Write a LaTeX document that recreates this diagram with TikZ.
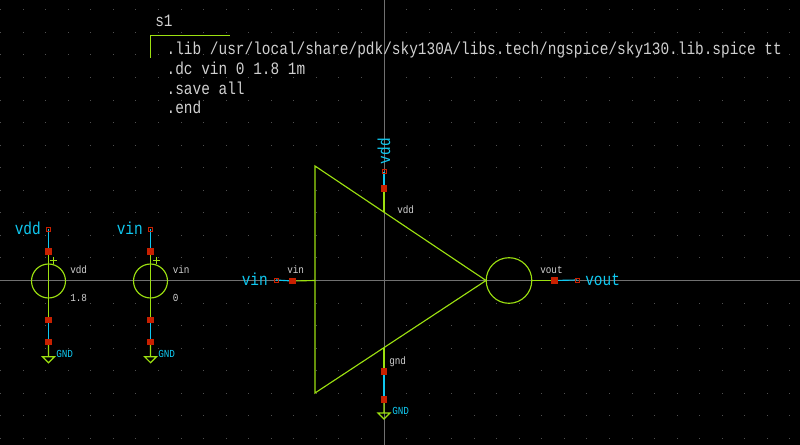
\documentclass[tikz,border=0pt]{standalone}
\usepackage{fontspec}
\setmonofont{Liberation Mono}
\definecolor{wiregreen}{HTML}{9CE010}
\definecolor{netcyan}{HTML}{10C8F0}
\definecolor{pinred}{HTML}{C82000}
\definecolor{labelgray}{HTML}{D0D0D0}
\definecolor{axisgray}{HTML}{707070}
\definecolor{dotgray}{HTML}{505050}
\pgfdeclarelayer{bottom}
\pgfdeclarelayer{wires}
\pgfsetlayers{bottom,wires,main}
\newcommand{\bigtxt}[1]{\scalebox{1}[1.2]{\fontsize{10.83pt}{12pt}\ttfamily #1}}
\newcommand{\smalltxt}[1]{\scalebox{1}[1.15]{\fontsize{7pt}{8pt}\ttfamily #1}}
\tikzset{
  x=0.75pt,y=-0.75pt,
  shape line/.style={draw=wiregreen,line width=0.85pt},
  net line/.style={draw=netcyan,line width=0.85pt},
  pinbox/.style={rectangle,fill=pinred,draw=none,minimum size=5pt,inner sep=0pt},
  smallpin/.style={rectangle,draw=pinred,fill=none,line width=0.6pt,minimum size=3pt,inner sep=0pt},
  code text/.style={anchor=base west,inner sep=0pt,text=labelgray},
  net text/.style={anchor=base west,inner sep=0pt,text=netcyan},
  axis line/.style={draw=axisgray,line width=0.75pt},
}
\newcommand{\gndsym}[3]{%
  \draw[shape line] (#1,#2) -- (#1,#3)
    (#1-6,#3) -- (#1+6,#3) -- (#1,#3+6) -- cycle;}
\begin{document}
\begin{tikzpicture}
\useasboundingbox (0,0) rectangle (800,445);
\begin{pgfonlayer}{bottom}
\fill[black] (0,0) rectangle (800,445);
\foreach \i in {-17,...,18}{
  \foreach \j in {-12,...,7}{
    \fill[dotgray] ({384+22.55*\i-0.5},{280.5+22.55*\j-0.5}) rectangle +(1,1);
  }
}
\draw[axis line] (0,280.5) -- (800,280.5);
\draw[axis line] (384,0) -- (384,445);
\end{pgfonlayer}
% code block
\draw[shape line] (150.5,58) -- (150.5,35.5) -- (230,35.5);
\node[code text] (title) at (155,26.7) {\bigtxt{s1}};
\node[code text] (l1) at (166.4,55) {\bigtxt{.lib /usr/local/share/pdk/sky130A/libs.tech/ngspice/sky130.lib.spice tt}};
\node[code text] (l2) at (166.4,74.7) {\bigtxt{.dc vin 0 1.8 1m}};
\node[code text] (l3) at (166.4,94.3) {\bigtxt{.save all}};
\node[code text] (l4) at (166.4,114) {\bigtxt{.end}};
% inverter symbol
\draw[shape line] (315,166) -- (315,393) -- (486,280.5) -- cycle;
\node[circle,draw=wiregreen,line width=0.85pt,minimum size=34.2pt,inner sep=0pt] (bubble) at (509,280.5) {};
% inverter pins
\node[pinbox] (invin) at (292.3,281) {};
\node[smallpin] (lin) at (276,280) {};
\coordinate (tin) at (315,280.5);
\node[net text] (inlabel) at (241.5,285.7) {\bigtxt{vin}};
\node[code text] (insmall) at (287,274) {\smalltxt{vin}};
\node[pinbox] (invout) at (554.5,280.5) {};
\node[smallpin] (lout) at (577,280) {};
\node[net text] (outlabel) at (585,285.7) {\bigtxt{vout}};
\node[code text] (outsmall) at (540,274) {\smalltxt{vout}};
\node[pinbox] (invvdd) at (384,188.7) {};
\node[smallpin] (lvdd) at (384,171.7) {};
\coordinate (tvdd) at (384,211.7);
\node[net text,rotate=90] (vddtop) at (390,164.5) {\bigtxt{vdd}};
\node[code text] (vddsmall) at (397,213.5) {\smalltxt{vdd}};
\node[pinbox] (invgnd) at (384,371.3) {};
\node[pinbox] (gndtop) at (384,399.3) {};
\coordinate (tgnd) at (384,348.5);
\node[code text] (gndsmall) at (389,364) {\smalltxt{gnd}};
\node[net text] (gndlabel) at (392,415) {\smalltxt{GND}};
% vdd source
\node[circle,draw=wiregreen,line width=0.85pt,minimum size=25.5pt,inner sep=0pt] (srca) at (48.5,281) {};
\node[pinbox] (atop) at (48.5,251.3) {};
\node[pinbox] (abot) at (48.5,320) {};
\node[pinbox] (agnd) at (48.5,342) {};
\node[smallpin] (alab) at (48.5,229) {};
\draw[shape line] (50,260.7) -- (57,260.7) (53.5,257.2) -- (53.5,264.2);
\node[net text] (alabel) at (14.5,235) {\bigtxt{vdd}};
\node[code text] (aname) at (70,273.3) {\smalltxt{vdd}};
\node[code text] (aval) at (70,301.7) {\smalltxt{1.8}};
\node[net text] (agndl) at (56,357.7) {\smalltxt{GND}};
% vin source
\node[circle,draw=wiregreen,line width=0.85pt,minimum size=25.5pt,inner sep=0pt] (srcb) at (150.5,281) {};
\node[pinbox] (btop) at (150.5,251.3) {};
\node[pinbox] (bbot) at (150.5,320) {};
\node[pinbox] (bgnd) at (150.5,342) {};
\node[smallpin] (blab) at (150.5,229) {};
\draw[shape line] (153,260.7) -- (160,260.7) (156.5,257.2) -- (156.5,264.2);
\node[net text] (blabel) at (116.5,235) {\bigtxt{vin}};
\node[code text] (bname) at (172.5,273.3) {\smalltxt{vin}};
\node[code text] (bval) at (172.5,301.7) {\smalltxt{0}};
\node[net text] (bgndl) at (158,357.7) {\smalltxt{GND}};
% wires, under the pin squares
\begin{pgfonlayer}{wires}
\draw[shape line] (invin.center) -- (tin);
\draw[net line] (lin.center) -- (invin.center);
\draw[shape line] (bubble.east) -- (invout.center);
\draw[net line] (invout.center) -- (lout.center);
\draw[shape line] (invvdd.center) -- (tvdd);
\draw[net line] (lvdd.center) -- (invvdd.center);
\draw[shape line] (tgnd) -- (invgnd.center);
\draw[net line] (invgnd.center) -- (gndtop.center);
\gndsym{384}{399.3}{413}
\draw[shape line] (atop.center) -- (abot.center);
\draw[net line] (alab.center) -- (atop.center);
\draw[net line] (abot.center) -- (agnd.center);
\gndsym{48.5}{342}{356.7}
\draw[shape line] (btop.center) -- (bbot.center);
\draw[net line] (blab.center) -- (btop.center);
\draw[net line] (bbot.center) -- (bgnd.center);
\gndsym{150.5}{342}{356.7}
\end{pgfonlayer}
\end{tikzpicture}
\end{document}
